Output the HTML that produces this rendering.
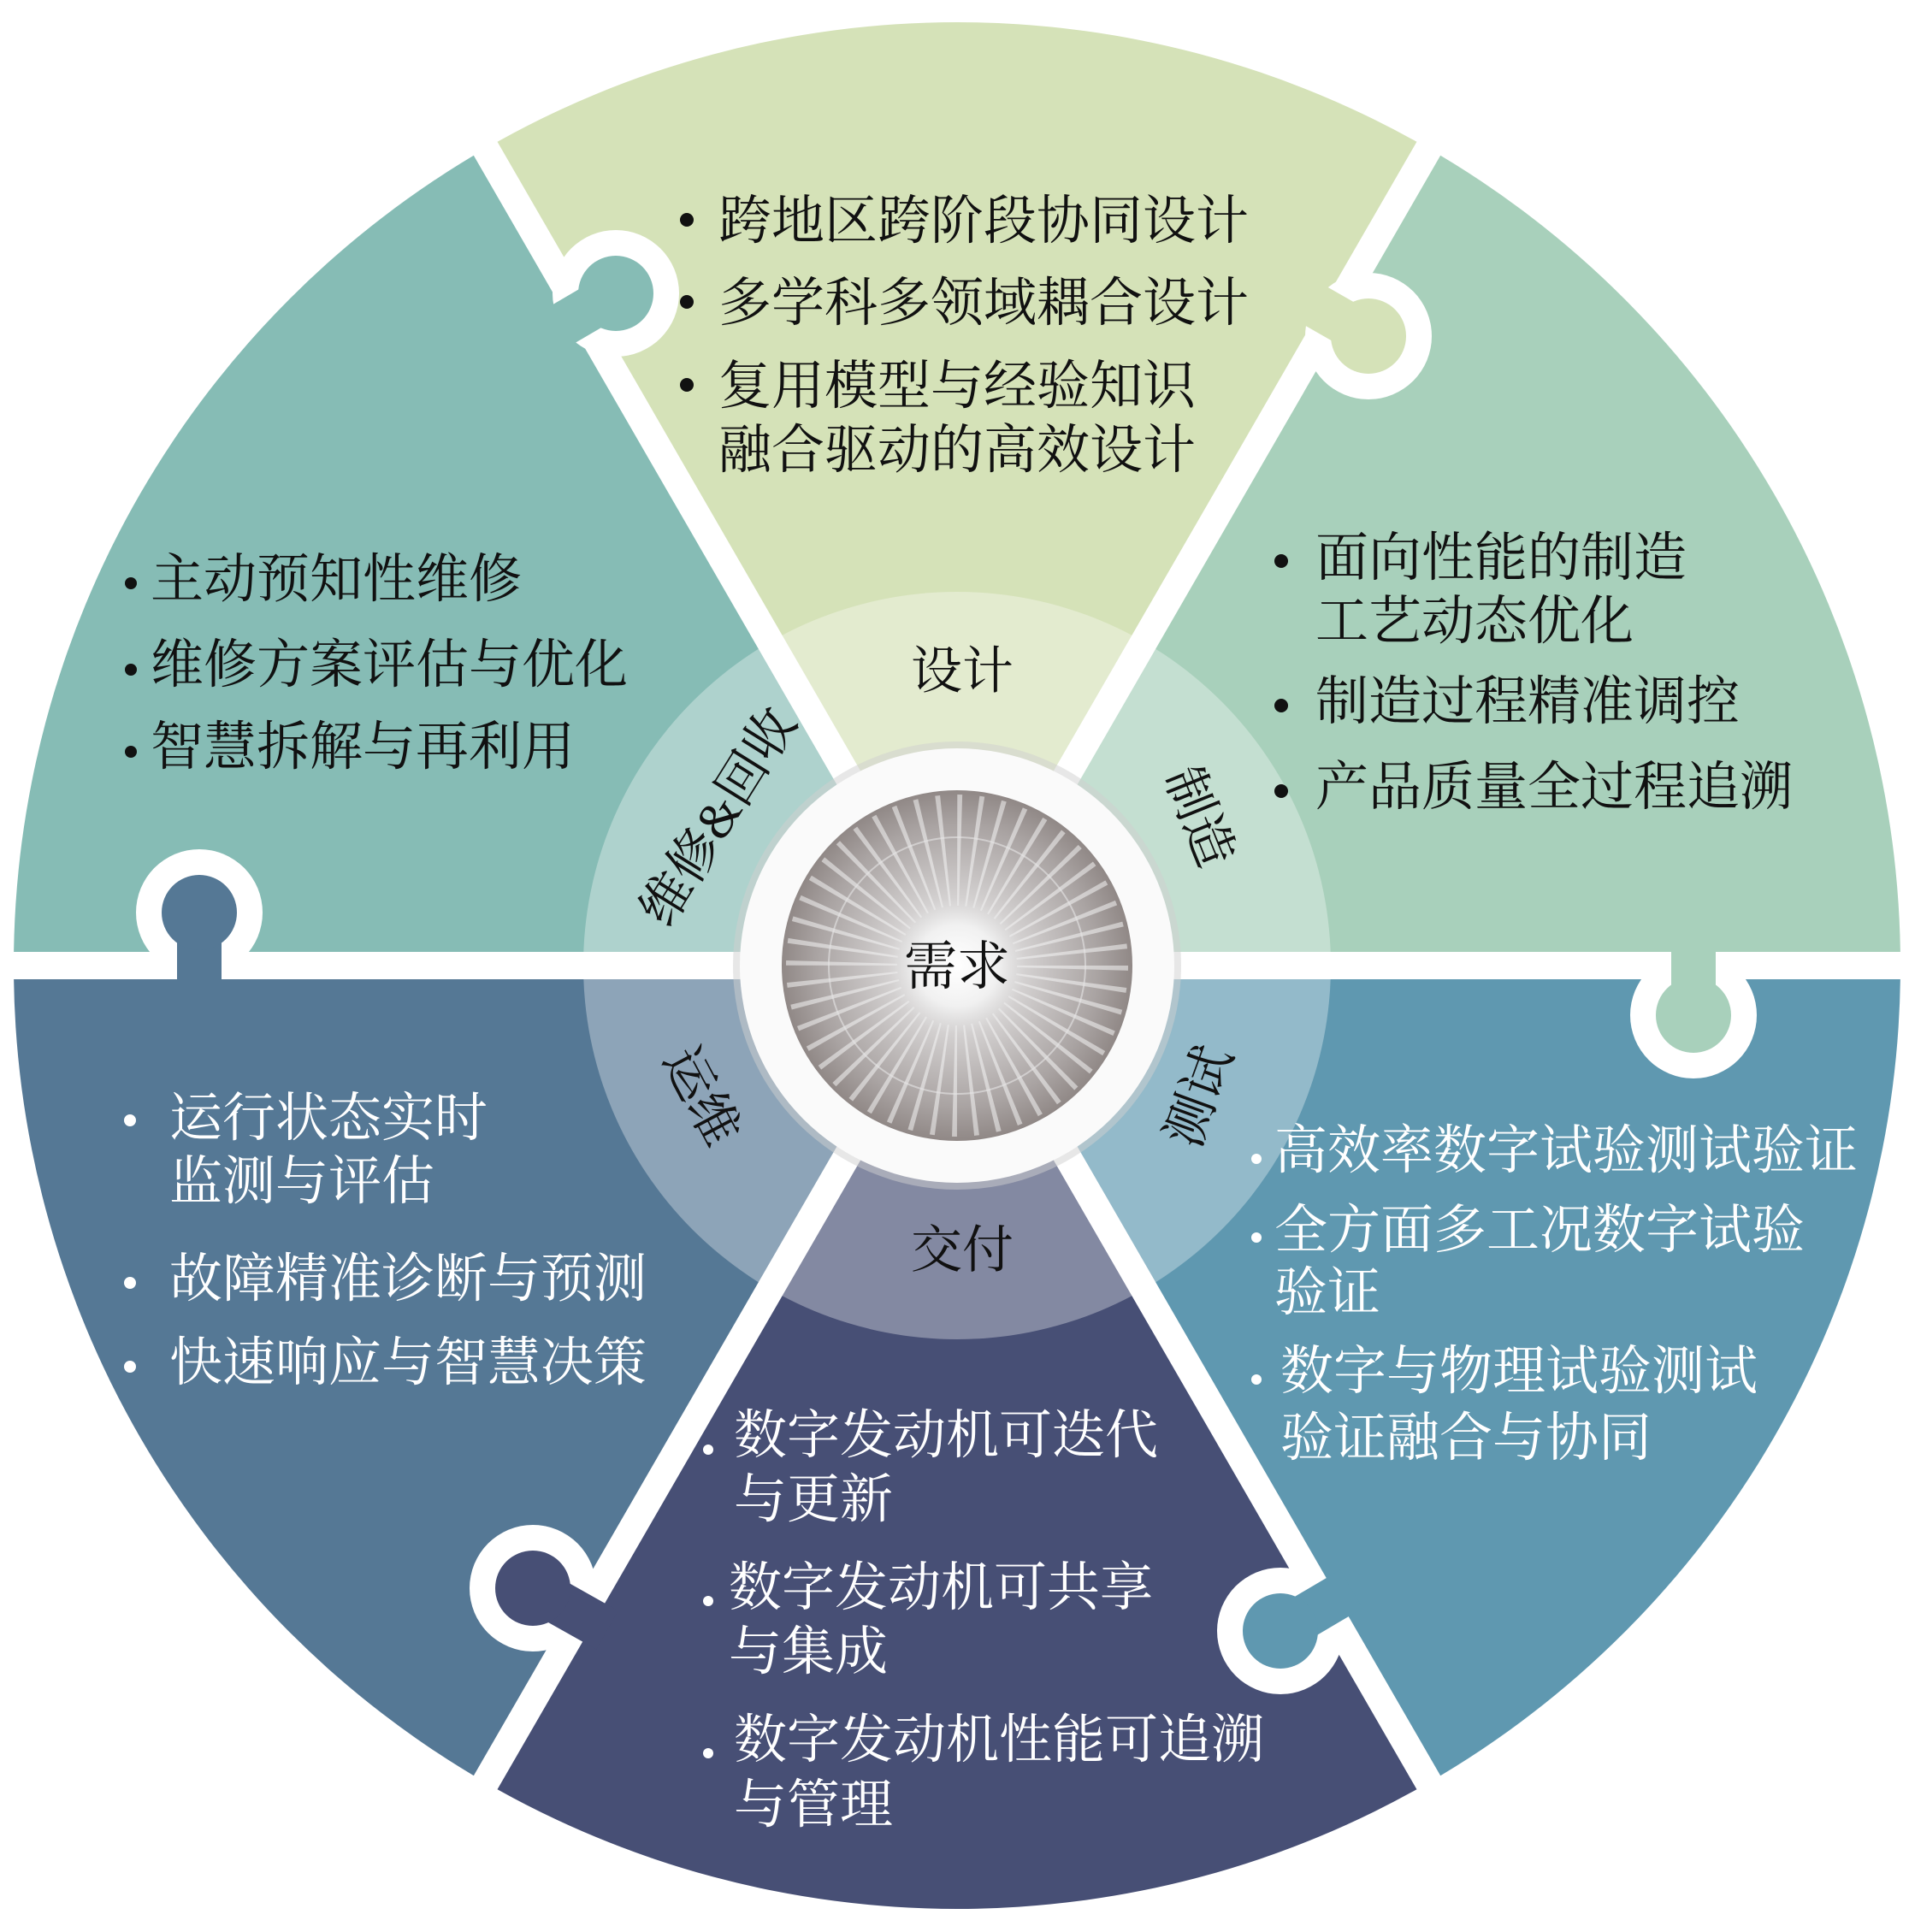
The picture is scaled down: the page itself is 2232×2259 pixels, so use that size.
<!DOCTYPE html>
<html><head><meta charset="utf-8"><style>
html,body{margin:0;padding:0;background:#fff;}
svg{display:block;}
text{font-family:"Liberation Serif","Noto Serif CJK SC",serif;}
</style></head><body>
<svg width="2232" height="2259" viewBox="0 0 2232 2259" xmlns="http://www.w3.org/2000/svg">
<defs>
<radialGradient id="fan" cx="50%" cy="50%" r="50%">
<stop offset="0" stop-color="#ffffff"/><stop offset="0.3" stop-color="#dcdada"/><stop offset="0.8" stop-color="#aaa4a3"/><stop offset="1" stop-color="#908886"/>
</radialGradient>
<radialGradient id="hub" cx="50%" cy="50%" r="50%">
<stop offset="0" stop-color="#ffffff"/><stop offset="0.6" stop-color="#f2f2f2" stop-opacity="0.9"/><stop offset="1" stop-color="#ddd" stop-opacity="0"/>
</radialGradient>
</defs>
<path d="M1119 1129 L1670.5 173.8 A1103 1103 0 0 0 567.5 173.8 Z" fill="#d5e2b8"/>
<path d="M1119 1129 L2222 1129 A1103 1103 0 0 0 1670.5 173.8 Z" fill="#a8d0bb"/>
<path d="M1119 1129 L567.5 173.8 A1103 1103 0 0 0 16 1129 Z" fill="#86bcb5"/>
<path d="M1119 1129 L16 1129 A1103 1103 0 0 0 567.5 2084.2 Z" fill="#557895"/>
<path d="M1119 1129 L567.5 2084.2 A1103 1103 0 0 0 1670.5 2084.2 Z" fill="#474f75"/>
<path d="M1119 1129 L1670.5 2084.2 A1103 1103 0 0 0 2222 1129 Z" fill="#5f98b0"/>
<g stroke="#fff" stroke-width="32">
<line x1="1119" y1="1129" x2="2240" y2="1129"/>
<line x1="1119" y1="1129" x2="0" y2="1129"/>
<line x1="1119" y1="1129" x2="1680" y2="157"/>
<line x1="1119" y1="1129" x2="558" y2="157"/>
<line x1="1119" y1="1129" x2="558" y2="2101"/>
<line x1="1119" y1="1129" x2="1680" y2="2101"/>
</g>
<circle cx="720" cy="343" r="74" fill="#fff"/>
<line x1="650" y1="384" x2="720" y2="343" stroke="#86bcb5" stroke-width="52"/>
<circle cx="720" cy="343" r="44" fill="#86bcb5"/>
<circle cx="1600" cy="393" r="74" fill="#fff"/>
<line x1="1530" y1="353" x2="1600" y2="393" stroke="#d5e2b8" stroke-width="52"/>
<circle cx="1600" cy="393" r="44" fill="#d5e2b8"/>
<circle cx="233" cy="1067" r="74" fill="#fff"/>
<line x1="233" y1="1150" x2="233" y2="1067" stroke="#557895" stroke-width="52"/>
<circle cx="233" cy="1067" r="44" fill="#557895"/>
<circle cx="1980" cy="1187" r="74" fill="#fff"/>
<line x1="1980" y1="1108" x2="1980" y2="1187" stroke="#a8d0bb" stroke-width="52"/>
<circle cx="1980" cy="1187" r="44" fill="#a8d0bb"/>
<circle cx="623" cy="1857" r="74" fill="#fff"/>
<line x1="710" y1="1906" x2="623" y2="1857" stroke="#474f75" stroke-width="52"/>
<circle cx="623" cy="1857" r="44" fill="#474f75"/>
<circle cx="1497" cy="1907" r="74" fill="#fff"/>
<line x1="1580" y1="1858" x2="1497" y2="1907" stroke="#5f98b0" stroke-width="52"/>
<circle cx="1497" cy="1907" r="44" fill="#5f98b0"/>
<circle cx="1119" cy="1129" r="437" fill="#ffffff" fill-opacity="0.33"/>
<circle cx="1119" cy="1129" r="262" fill="#cfcfcf" fill-opacity="0.5"/>
<circle cx="1119" cy="1129" r="254" fill="#fafafa"/>
<circle cx="1119" cy="1129" r="205" fill="url(#fan)"/>
<circle cx="1119" cy="1129" r="135" fill="none" stroke="#f4f4f4" stroke-opacity="0.55" stroke-width="130" stroke-dasharray="4 13.67"/>
<circle cx="1119" cy="1129" r="150" fill="none" stroke="#e6e6e6" stroke-opacity="0.6" stroke-width="2"/>
<circle cx="1119" cy="1129" r="80" fill="url(#hub)"/>
<text x="1119" y="1151" font-size="62" text-anchor="middle" fill="#111">需求</text>
<g font-size="60" fill="#111" text-anchor="middle">
<text x="1125" y="805">设计</text>
<text x="1125" y="1482">交付</text>
<text transform="translate(1402 955) rotate(68)" y="20">制造</text>
<text transform="translate(1402 1282) rotate(-70)" y="20">测试</text>
<text transform="translate(840 955) rotate(-58)" y="20">维修&amp;回收</text>
<text transform="translate(820 1282) rotate(62)" y="20">运维</text>
</g>
<g font-size="62" fill="#111">
<circle cx="803" cy="257" r="8"/><circle cx="803" cy="353" r="8"/><circle cx="803" cy="450" r="8"/>
<text x="840" y="279">跨地区跨阶段协同设计</text>
<text x="840" y="375">多学科多领域耦合设计</text>
<text x="840" y="472">复用模型与经验知识</text>
<text x="840" y="547">融合驱动的高效设计</text>
</g>
<g font-size="62" fill="#111">
<circle cx="153" cy="682" r="7"/><circle cx="153" cy="783" r="7"/><circle cx="153" cy="879" r="7"/>
<text x="176" y="698">主动预知性维修</text>
<text x="176" y="798">维修方案评估与优化</text>
<text x="176" y="894">智慧拆解与再利用</text>
</g>
<g font-size="62" fill="#111">
<circle cx="1498" cy="656" r="8"/><circle cx="1498" cy="825" r="8"/><circle cx="1498" cy="925" r="8"/>
<text x="1538" y="673">面向性能的制造</text>
<text x="1538" y="747">工艺动态优化</text>
<text x="1538" y="841">制造过程精准调控</text>
<text x="1538" y="941">产品质量全过程追溯</text>
</g>
<g font-size="62" fill="#fff">
<circle cx="152" cy="1310" r="7"/><circle cx="152" cy="1500" r="7"/><circle cx="152" cy="1598" r="7"/>
<text x="198" y="1328">运行状态实时</text>
<text x="198" y="1402">监测与评估</text>
<text x="198" y="1516">故障精准诊断与预测</text>
<text x="198" y="1614">快速响应与智慧决策</text>
</g>
<g font-size="62" fill="#fff">
<circle cx="1469" cy="1355" r="6"/><circle cx="1469" cy="1447" r="6"/><circle cx="1469" cy="1613" r="6"/>
<text x="1490" y="1366">高效率数字试验测试验证</text>
<text x="1490" y="1459">全方面多工况数字试验</text>
<text x="1490" y="1532">验证</text>
<text x="1497" y="1624">数字与物理试验测试</text>
<text x="1497" y="1702">验证融合与协同</text>
</g>
<g font-size="62" fill="#fff">
<circle cx="828" cy="1695" r="6"/><circle cx="828" cy="1872" r="6"/><circle cx="828" cy="2050" r="6"/>
<text x="858" y="1699">数字发动机可迭代</text>
<text x="858" y="1774">与更新</text>
<text x="852" y="1877">数字发动机可共享</text>
<text x="852" y="1952">与集成</text>
<text x="858" y="2055">数字发动机性能可追溯</text>
<text x="858" y="2131">与管理</text>
</g>
</svg>
</body></html>
